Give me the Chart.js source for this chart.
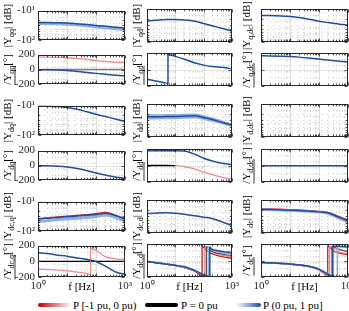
<!DOCTYPE html>
<html>
<head>
<meta charset="utf-8">
<script src="https://cdn.jsdelivr.net/npm/chart.js@4.4.1/dist/chart.umd.min.js"></script>
<style>
  html, body { margin: 0; padding: 0; background: #fff; }
  #fig { position: relative; width: 349px; height: 311px; overflow: hidden; font-family: 'Liberation Serif', serif; }
  #fig canvas { position: absolute; }
  .leg { position: absolute; top: 298px; font-size: 11px; line-height: 14px; color: #000; white-space: nowrap; }
  .swatch { position: absolute; top: 303px; height: 4px; border-radius: 2px; }
</style>
</head>
<body>
<div id="fig">
  <div class="swatch" style="left:38px;width:34px;background:linear-gradient(to right,#c00000,#ffffff);"></div>
  <div class="leg" style="left:73px;">P [-1 pu, 0 pu)</div>
  <div class="swatch" style="left:145px;width:33px;background:#000;"></div>
  <div class="leg" style="left:181px;">P = 0 pu</div>
  <div class="swatch" style="left:236px;width:25px;background:linear-gradient(to right,#ffffff,#1f4e9e);"></div>
  <div class="leg" style="left:263px;">P (0 pu, 1 pu]</div>
</div>
<script>
// Bode plots of the admittance matrix elements, magnitude in dB, phase in degrees

// common frequency grid [Hz]
const freqHz = [1, 2, 5, 10, 20, 50, 100, 200, 500, 1000];

// tick values of the axes
const freqTicks = [1, 2, 3, 4, 5, 6, 7, 8, 9, 10, 20, 30, 40, 50, 60, 70, 80, 90,
  100, 200, 300, 400, 500, 600, 700, 800, 900, 1000];
const magTicks = [10, 20, 30, 40, 50, 60, 70, 80, 90, 100];
const phaseTicks = [-200, 0, 200];

// --- row 1: Yqq, Yqd, Yq,dc
const yqqMagBlue = [-25.1, -25.1, -25.7, -26.3, -27.5, -29.5, -31.6, -33.1, -36.3, -38.0];
const yqqMagLight = [-27.0, -27.2, -27.8, -28.6, -30.0, -32.5, -35.0, -37.0, -40.5, -43.0];
const yqqPhBlue = [-2, -3, -7, -15, -25, -40, -52, -63, -77, -85];
const yqqPhRed = [167, 165, 161, 158, 150, 135, 120, 108, 96, 90];
const yqqPhZero = [0, 0, 0, 0, 0, 0, 0, 0, 0, 0];

const yqdMagBlue = [-23.4, -21.9, -20.9, -20.9, -21.4, -23.4, -27.5, -32.4, -39.8, -46.8];
const yqdPhFreq = [1, 2, 5, 5.5, 5.5, 10, 20, 50, 100, 200, 500, 1000];
const yqdPhBlue = [-118, -139, -165, -170, 180, 159, 127, 78, 53, 37, 24, 8];

const yqdcMagBlue = [-15.8, -15.8, -16.2, -17.0, -18.2, -20.9, -23.4, -25.7, -28.8, -30.9];
const yqdcPhBlue = [167, 165, 161, 157, 150, 137, 126, 115, 101, 91];

// --- row 2: Ydq, Ydd, Yd,dc
const ydqMagBlue = [-10.5, -10.5, -10.7, -11.5, -12.9, -16.2, -19.5, -22.9, -28.8, -33.9];
const ydqPhBlue = [-2, -4, -10, -20, -38, -70, -100, -128, -158, -172];

const yddMagBlue = [-24.5, -24.5, -24.0, -24.0, -23.4, -22.9, -25.7, -29.5, -37.2, -43.7];
const yddMagLightHi = [-22.4, -22.4, -21.9, -21.9, -21.4, -21.2, -23.8, -27.8, -35.5, -42.0];
const yddMagLightLo = [-27.0, -27.0, -26.4, -26.4, -25.8, -25.2, -27.8, -31.5, -39.0, -45.0];
const yddPhBlue = [180, 180, 179, 178, 175, 135, 88, 55, 25, 13];
const yddPhRed = [null, null, null, -2, -12, -45, -80, -112, -147, -164];
const yddPhBlack = [0, 0, 0, -1, null, null, null, null, null, null];

const yddcPhBlue = [-4, -4, -4, -4, -4, -4, -4, -4, -4, -4];

// --- row 3: Ydc,q, Ydc,d, Ydc
const ydcqFreq = [1, 2, 5, 10, 20, 50, 100, 220, 500, 1000];
const ydcqMagRed = [-37.5, -35.5, -32.6, -30.9, -29.3, -27.3, -25.5, -23.2, -29.3, -37.5];
const ydcqMagBlue = [-38.0, -36.3, -33.9, -32.4, -30.9, -28.8, -26.9, -24.5, -30.2, -38.9];
const ydcqMagLight = [-45.7, -43.7, -39.8, -38.0, -36.3, -33.9, -31.6, -28.2, -34.7, -44.7];
const ydcqPhBlue = [108, 98, 78, 64, 46, 22, -2, -58, -140, -168];
const ydcqPhRedFreq = [1, 2, 5, 10, 20, 50, 65, 65, 100, 200, 500, 1000];
const ydcqPhRed = [-100, -104, -112, -122, -135, -160, -174, 162, 140, 62, 28, 20];
const ydcqPhBlack = [0, 0, 0, 0, 0, 0, 0, 0, 0, 0];

const ydcdMagBlue = [-25.7, -25.1, -24.5, -25.1, -26.9, -30.2, -33.1, -36.3, -47.9, -58.9];
const ydcdPhBlueFreq = [1, 2, 5, 10, 20, 50, 100, 165, 165, 200, 300, 500, 1000];
const ydcdPhBlue = [-12, -26, -45, -59, -73, -123, -172, -195, 162, 136, 120, 106, 96];
const ydcdPhLightFreq = [1, 10, 50, 100, 145, 145, 200, 500, 1000];
const ydcdPhLight = [-12, -60, -125, -175, -195, 165, 128, 92, 78];
const ydcdPhBlackFreq = [1, 10, 50, 100, 125, 125, 200, 500, 1000];
const ydcdPhBlack = [-12, -60, -126, -178, -195, 168, 108, 74, 60];
const ydcdPhLRedFreq = [1, 10, 50, 90, 110, 110, 200, 500, 1000];
const ydcdPhLRed = [-12, -61, -128, -170, -192, 168, 95, 60, 46];
const ydcdPhRedFreq = [1, 10, 50, 88, 88, 120, 200, 500, 1000];
const ydcdPhRed = [-13, -62, -132, -185, 168, 130, 80, 45, 28];

const ydcMagBlue = [-19.5, -19.5, -20.0, -20.4, -20.9, -21.9, -22.9, -24.5, -33.5, -42.7];
const ydcMagRed = [-18.6, -18.6, -19.1, -19.5, -20.0, -20.9, -22.2, -23.8, -31.6, -40.0];
const ydcMagLight = [-19.9, -19.9, -20.4, -20.9, -21.4, -22.4, -23.4, -25.7, -36.3, -47.9];
const ydcPhBlueFreq = [1, 2, 5, 10, 20, 50, 100, 170, 250, 300, 300, 500, 1000];
const ydcPhBlue = [-24, -29, -35, -42, -52, -72, -104, -150, -182, -195, 174, 170, 166];
const ydcPhLightFreq = [1, 10, 50, 100, 170, 300, 430, 430, 1000];
const ydcPhLight = [-24, -42, -73, -106, -153, -188, -198, 176, 160];
const ydcPhBlackFreq = [1, 10, 50, 100, 170, 280, 280, 500, 1000];
const ydcPhBlack = [-24, -43, -74, -108, -158, -195, 170, 135, 108];
const ydcPhLRedFreq = [1, 10, 50, 100, 170, 234, 234, 500, 1000];
const ydcPhLRed = [-25, -44, -76, -112, -165, -195, 170, 105, 82];
const ydcPhRedFreq = [1, 10, 50, 100, 150, 200, 200, 300, 500, 1000];
const ydcPhRed = [-25, -45, -78, -115, -160, -195, 176, 122, 88, 68];

const BLUE = '#1f4e9e', LBLUE = '#8eb0e2', RED = '#d11a1a', LRED = '#f48a8a', BLACK = '#000000', GRAY = '#808080';
const SERIF = "'Liberation Serif', 'Times New Roman', serif";

// layout of the 3 x 6 grid of axes (page pixels)
const colLeft = [38, 147, 261];
const colWidth = [87, 85, 87];
const rowTop = [9, 53, 104, 149, 200, 244];
const plotH = 33;
const titleX = [7, 136, 246];

// first line in the list is drawn on top
const panels = [
  { r: 0, c: 0, mag: true, sub: 'qq', lines: [[freqHz, yqqMagBlue, BLUE, 1.5], [freqHz, yqqMagLight, LBLUE, 3]] },
  { r: 1, c: 0, mag: false, sub: 'qq', lines: [[freqHz, yqqPhBlue, BLUE, 1.5], [freqHz, yqqPhRed, LRED, 1.3], [freqHz, yqqPhZero, GRAY, 1.6]] },
  { r: 0, c: 1, mag: true, sub: 'qd', lines: [[freqHz, yqdMagBlue, BLUE, 1.5]] },
  { r: 1, c: 1, mag: false, sub: 'qd', lines: [[yqdPhFreq, yqdPhBlue, BLUE, 1.5]] },
  { r: 0, c: 2, mag: true, sub: 'q,dc', lines: [[freqHz, yqdcMagBlue, BLUE, 1.5]] },
  { r: 1, c: 2, mag: false, sub: 'q,dc', lines: [[freqHz, yqdcPhBlue, BLUE, 1.5]] },

  { r: 2, c: 0, mag: true, sub: 'dq', lines: [[freqHz, ydqMagBlue, BLUE, 1.5]] },
  { r: 3, c: 0, mag: false, sub: 'dq', lines: [[freqHz, ydqPhBlue, BLUE, 1.5]] },
  { r: 2, c: 1, mag: true, sub: 'dd', lines: [[freqHz, yddMagBlue, BLUE, 1.5], [freqHz, yddMagLightHi, LBLUE, 2.5], [freqHz, yddMagLightLo, LBLUE, 2.5]] },
  { r: 3, c: 1, mag: false, sub: 'dd', lines: [[freqHz, yddPhBlue, BLUE, 1.5], [freqHz, yddPhRed, LRED, 1.3], [freqHz, yddPhBlack, BLACK, 1.3]] },
  { r: 2, c: 2, mag: true, sub: 'd,dc', lines: [] },
  { r: 3, c: 2, mag: false, sub: 'd,dc', lines: [[freqHz, yddcPhBlue, BLUE, 1.5]] },

  { r: 4, c: 0, mag: true, sub: 'dc,q', lines: [[ydcqFreq, ydcqMagBlue, BLUE, 1.5], [ydcqFreq, ydcqMagLight, LBLUE, 3], [ydcqFreq, ydcqMagRed, RED, 1.3]] },
  { r: 5, c: 0, mag: false, sub: 'dc,q', lines: [[freqHz, ydcqPhBlue, BLUE, 1.5], [ydcqPhRedFreq, ydcqPhRed, LRED, 1.3], [freqHz, ydcqPhBlack, BLACK, 1.3]] },
  { r: 4, c: 1, mag: true, sub: 'dc,d', lines: [[freqHz, ydcdMagBlue, BLUE, 1.5]] },
  { r: 5, c: 1, mag: false, sub: 'dc,d', lines: [[ydcdPhBlueFreq, ydcdPhBlue, BLUE, 1.5], [ydcdPhLightFreq, ydcdPhLight, LBLUE, 1.5],
      [ydcdPhBlackFreq, ydcdPhBlack, '#555555', 1.2], [ydcdPhLRedFreq, ydcdPhLRed, LRED, 1.3], [ydcdPhRedFreq, ydcdPhRed, RED, 1.3]] },
  { r: 4, c: 2, mag: true, sub: 'dc', lines: [[freqHz, ydcMagBlue, BLUE, 1.5], [freqHz, ydcMagLight, LBLUE, 2.5], [freqHz, ydcMagRed, RED, 1.3]] },
  { r: 5, c: 2, mag: false, sub: 'dc', lines: [[ydcPhBlueFreq, ydcPhBlue, BLUE, 1.5], [ydcPhLightFreq, ydcPhLight, LBLUE, 1.5],
      [ydcPhBlackFreq, ydcPhBlack, '#555555', 1.2], [ydcPhLRedFreq, ydcPhLRed, LRED, 1.3], [ydcPhRedFreq, ydcPhRed, RED, 1.3]] }
];

function isDecade(v) {
  const l = Math.log10(v);
  return Math.abs(l - Math.round(l)) < 1e-6;
}

function seg(ctx, x1, y1, x2, y2) {
  ctx.beginPath();
  ctx.moveTo(x1, y1);
  ctx.lineTo(x2, y2);
  ctx.stroke();
}

// rotated y label with subscript, e.g. |Y_qq| [dB] or /Y_qq [deg] underlined
function drawLabel(ctx, cx, cy, sub, phase) {
  const parts = phase
    ? [['/', 11, 0], ['Y', 11, 0], [sub, 8, 2.5], ['[°]', 11, 0]]
    : [['|Y', 11, 0], [sub, 8, 2.5], ['| [dB]', 11, 0]];
  ctx.save();
  ctx.translate(cx, cy);
  ctx.rotate(-Math.PI / 2);
  ctx.fillStyle = '#000';
  ctx.textBaseline = 'alphabetic';
  let total = 0;
  const widths = parts.map(([t, s]) => {
    ctx.font = s + 'px ' + SERIF;
    const w = ctx.measureText(t).width;
    total += w;
    return w;
  });
  const base = 4;
  let x = -total / 2;
  parts.forEach(([t, s, dy], i) => {
    ctx.font = s + 'px ' + SERIF;
    ctx.fillText(t, x, base + dy);
    x += widths[i];
  });
  if (phase) {
    ctx.strokeStyle = '#000';
    ctx.lineWidth = 0.8;
    const x0 = -total / 2;
    seg(ctx, x0, base + 4, x0 + widths[0] + widths[1] + widths[2], base + 4);
  }
  ctx.restore();
}

const framePlugin = {
  id: 'frame',
  beforeDatasetsDraw(chart, args, o) {
    const { ctx, chartArea: a } = chart;
    const xs = chart.scales.x, ys = chart.scales.y;
    ctx.save();
    ctx.lineWidth = 1;
    xs.ticks.forEach(t => {
      if (t.value <= 1 || t.value >= 1000) return;
      const px = Math.round(xs.getPixelForValue(t.value)) + 0.5;
      const major = isDecade(t.value);
      ctx.strokeStyle = major ? 'rgba(0,0,0,0.13)' : 'rgba(0,0,0,0.16)';
      ctx.setLineDash(major ? [] : [1.5, 4.5]);
      seg(ctx, px, a.top, px, a.bottom);
    });
    ys.ticks.forEach(t => {
      const v = t.value;
      if (v <= ys.min || v >= ys.max) return;
      const py = Math.round(ys.getPixelForValue(v)) + 0.5;
      const major = o.mag ? isDecade(v) : true;
      ctx.strokeStyle = major ? 'rgba(0,0,0,0.1)' : 'rgba(0,0,0,0.16)';
      ctx.setLineDash(major ? [] : [1.5, 4.5]);
      seg(ctx, a.left, py, a.right, py);
    });
    ctx.restore();
  },
  afterDatasetsDraw(chart, args, o) {
    const { ctx, chartArea: a } = chart;
    const xs = chart.scales.x, ys = chart.scales.y;
    const L = Math.round(a.left) + 0.5, R = Math.round(a.right) - 0.5;
    const T = Math.round(a.top) + 0.5, B = Math.round(a.bottom) - 0.5;
    ctx.save();
    ctx.strokeStyle = '#262626';
    ctx.lineWidth = 0.8;
    xs.ticks.forEach(t => {
      const px = Math.round(xs.getPixelForValue(t.value)) + 0.5;
      const len = isDecade(t.value) ? 3 : 1.8;
      seg(ctx, px, B, px, B - len);
      seg(ctx, px, T, px, T + len);
    });
    ys.ticks.forEach(t => {
      const py = Math.round(ys.getPixelForValue(t.value)) + 0.5;
      const len = (!o.mag || isDecade(t.value)) ? 3 : 1.8;
      seg(ctx, L, py, L + len, py);
      seg(ctx, R, py, R - len, py);
    });
    ctx.lineWidth = 1;
    ctx.strokeRect(L, T, R - L, B - T);
    ctx.restore();
  },
  afterDraw(chart, args, o) {
    const { ctx, chartArea: a } = chart;
    drawLabel(ctx, o.titleX, (a.top + a.bottom) / 2, o.sub, !o.mag);
    if (o.xlabel) {
      ctx.save();
      ctx.fillStyle = '#000';
      ctx.font = '11px ' + SERIF;
      ctx.textAlign = 'center';
      ctx.textBaseline = 'middle';
      ctx.fillText('f [Hz]', (a.left + a.right) / 2, a.bottom + 10);
      ctx.restore();
    }
  }
};

const fig = document.getElementById('fig');
const tickFont = { family: SERIF, size: 11 };
const asTicks = vals => vals.map(v => ({ value: v }));

panels.forEach(p => {
  const bottom = p.r === 5;
  const left = colLeft[p.c] - 38, top = rowTop[p.r] - 8;
  const w = 38 + colWidth[p.c] + 12, h = 8 + plotH + (bottom ? 24 : 8);
  const cv = document.createElement('canvas');
  cv.width = w;
  cv.height = h;
  cv.style.left = left + 'px';
  cv.style.top = top + 'px';
  cv.style.width = w + 'px';
  cv.style.height = h + 'px';
  fig.appendChild(cv);

  const yScale = p.mag
    ? { type: 'logarithmic', reverse: true, min: 10, max: 100,
        afterBuildTicks: s => { s.ticks = asTicks(magTicks); },
        ticks: { display: p.c === 0, autoSkip: false, padding: 3, color: '#262626', font: tickFont,
          callback: v => v === 10 ? '-10¹' : v === 100 ? '-10²' : '' } }
    : { type: 'linear', min: -200, max: 200,
        afterBuildTicks: s => { s.ticks = asTicks(phaseTicks); },
        ticks: { display: p.c === 0, autoSkip: false, padding: 3, color: '#262626', font: tickFont,
          callback: v => String(v) } };
  yScale.grid = { display: false, drawTicks: false };
  yScale.border = { display: false };
  yScale.afterFit = s => { s.width = 38; };

  new Chart(cv, {
    type: 'line',
    data: {
      datasets: p.lines.map(([xs, ys, color, width]) => ({
        data: xs.map((f, i) => ({ x: f, y: ys[i] === null ? null : (p.mag ? -ys[i] : ys[i]) })),
        borderColor: color,
        borderWidth: width,
        pointRadius: 0,
        fill: false,
        cubicInterpolationMode: 'monotone'
      }))
    },
    options: {
      responsive: false,
      animation: false,
      events: [],
      layout: { padding: { left: 0, top: 8, right: 12, bottom: bottom ? 0 : 8 } },
      plugins: {
        legend: { display: false },
        tooltip: { enabled: false },
        frame: { mag: p.mag, sub: p.sub, titleX: titleX[p.c] - left, xlabel: bottom }
      },
      scales: {
        x: {
          type: 'logarithmic', min: 1, max: 1000,
          afterBuildTicks: s => { s.ticks = asTicks(freqTicks); },
          grid: { display: false, drawTicks: false },
          border: { display: false },
          ticks: { display: bottom, autoSkip: false, maxRotation: 0, padding: 3, color: '#262626', font: tickFont,
            callback: v => v === 1 ? '10⁰' : v === 1000 ? '10³' : '' },
          afterFit: s => { s.height = bottom ? 24 : 0; }
        },
        y: yScale
      }
    },
    plugins: [framePlugin]
  });
});
</script>
</body>
</html>
